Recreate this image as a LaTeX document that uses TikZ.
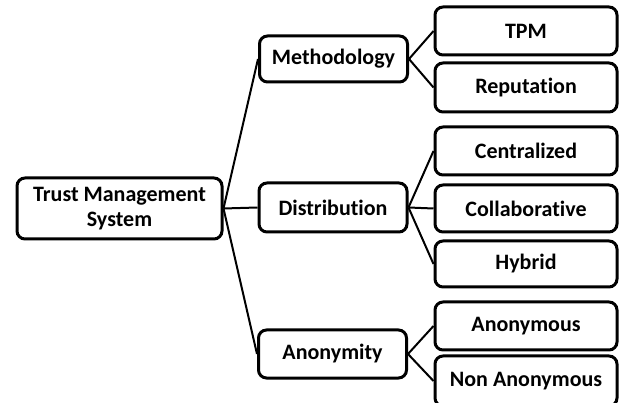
\documentclass[tikz,border=0pt]{standalone}
\usepackage{fontspec}
\setmainfont{Carlito}[Ligatures=NoCommon]
\begin{document}
\begin{tikzpicture}[x=1pt,y=-1pt,
  box/.style={draw=black, line width=3pt, rounded corners=8pt, fill=white,
    inner sep=0pt, align=center, font=\bfseries\fontsize{22}{25}\selectfont},
  leaf/.style={box, minimum width=182pt},
  mid/.style={box, minimum width=148pt},
  conn/.style={line width=2pt}]
\useasboundingbox (0,0) rectangle (624,403);
\begin{scope}
\clip (0,0) rectangle (624,403);
\node[box, minimum width=205pt, minimum height=61pt] (root) at (119.5,208.5) {Trust Management\\System};
\node[mid, minimum height=46pt] (meth) at (333.5,59) {Methodology};
\node[mid, minimum height=49pt] (dist) at (333,207.5) {Distribution};
\node[mid, minimum height=48pt] (anon) at (332.5,354) {Anonymity};
\node[leaf, minimum height=48pt] (tpm) at (526,31) {TPM};
\node[leaf, minimum height=49pt] (rep) at (526,87.5) {Reputation};
\node[leaf, minimum height=48pt] (cent) at (526,151) {Centralized};
\node[leaf, minimum height=47pt] (coll) at (526,208.5) {Collaborative};
\node[leaf, minimum height=46pt] (hyb) at (526,264) {Hybrid};
\node[leaf, minimum height=48pt] (anm) at (526,326) {Anonymous};
\node[leaf, minimum height=50pt] (nonanm) at (526,381) {Non Anonymous};
\draw[conn] (root.east) -- (meth.west);
\draw[conn] (root.east) -- (dist.west);
\draw[conn] (root.east) -- (anon.west);
\draw[conn] (meth.east) -- (tpm.west);
\draw[conn] (meth.east) -- (rep.west);
\draw[conn] (dist.east) -- (cent.west);
\draw[conn] (dist.east) -- (coll.west);
\draw[conn] (dist.east) -- (hyb.west);
\draw[conn] (anon.east) -- (anm.west);
\draw[conn] (anon.east) -- (nonanm.west);
\end{scope}
\end{tikzpicture}
\end{document}
